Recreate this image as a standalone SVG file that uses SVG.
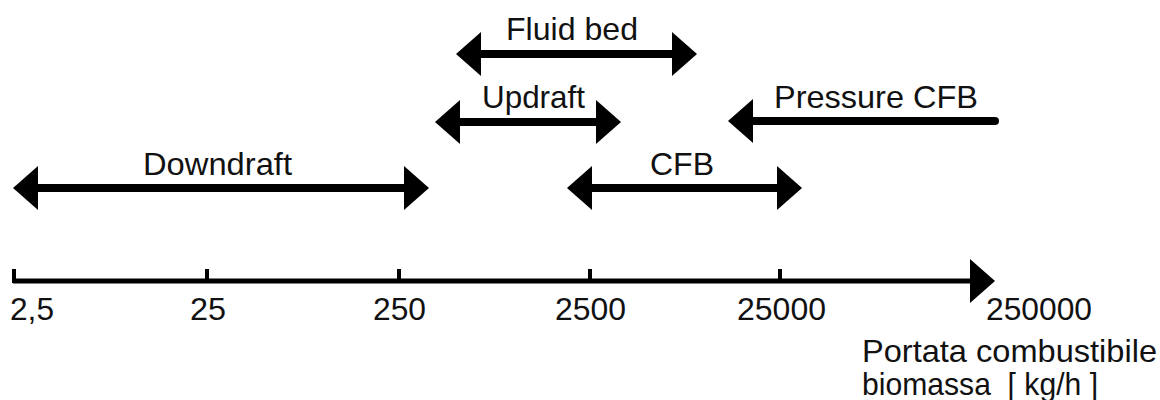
<svg xmlns="http://www.w3.org/2000/svg" width="1160" height="400" viewBox="0 0 1160 400">
<style>
  .bar{stroke:#000;stroke-width:8;fill:none;marker-start:url(#head);marker-end:url(#head)}
  .one{stroke:#000;stroke-width:8;fill:none;stroke-linecap:round;marker-start:url(#head)}
  .axis{stroke:#000;stroke-width:5;fill:none;marker-end:url(#head)}
  .tick{stroke:#000;stroke-width:4;fill:none}
  text{font-family:"Liberation Sans",Arial,sans-serif;font-size:32px;fill:#111;white-space:pre}
</style>
<defs>
  <marker id="head" viewBox="0 0 26 44" refX="1" refY="22" markerWidth="26" markerHeight="44" markerUnits="userSpaceOnUse" orient="auto-start-reverse">
    <path d="M0,0 L25,22 L0,44 z" fill="#000"/>
  </marker>
</defs>
<g id="connectors">
  <line id="fluidbed-bar" class="bar" x1="480" y1="54" x2="673" y2="54"/>
  <line id="updraft-bar" class="bar" x1="459" y1="122" x2="597" y2="122"/>
  <line id="pressure-bar" class="one" x1="752" y1="121" x2="995" y2="121"/>
  <line id="downdraft-bar" class="bar" x1="37" y1="188" x2="405" y2="188"/>
  <line id="cfb-bar" class="bar" x1="591" y1="188" x2="778" y2="188"/>
  <line id="axis-line" class="axis" x1="13" y1="281" x2="971" y2="281"/>
</g>
<g id="ticks">
  <line class="tick" x1="14" y1="269" x2="14" y2="283"/>
  <line class="tick" x1="207" y1="269" x2="207" y2="283"/>
  <line class="tick" x1="399" y1="269" x2="399" y2="283"/>
  <line class="tick" x1="590" y1="269" x2="590" y2="283"/>
  <line class="tick" x1="780" y1="269" x2="780" y2="283"/>
</g>
<g id="fluidbed"><text x="506" y="40" textLength="132" lengthAdjust="spacingAndGlyphs">Fluid bed</text></g>
<g id="updraft"><text x="482" y="108" textLength="103" lengthAdjust="spacingAndGlyphs">Updraft</text></g>
<g id="pressurecfb"><text x="774" y="108" textLength="204" lengthAdjust="spacingAndGlyphs">Pressure CFB</text></g>
<g id="downdraft"><text x="143" y="175" textLength="149" lengthAdjust="spacingAndGlyphs">Downdraft</text></g>
<g id="cfb"><text x="650" y="175" textLength="64" lengthAdjust="spacingAndGlyphs">CFB</text></g>
<g id="axis-labels">
  <text x="10" y="320" textLength="44" lengthAdjust="spacingAndGlyphs">2,5</text>
  <text x="190" y="320" textLength="36" lengthAdjust="spacingAndGlyphs">25</text>
  <text x="373" y="320" textLength="53" lengthAdjust="spacingAndGlyphs">250</text>
  <text x="555" y="320" textLength="71" lengthAdjust="spacingAndGlyphs">2500</text>
  <text x="737" y="320" textLength="89" lengthAdjust="spacingAndGlyphs">25000</text>
  <text x="986" y="320" textLength="106" lengthAdjust="spacingAndGlyphs">250000</text>
</g>
<g id="axis-title">
  <text x="862" y="362" textLength="295" lengthAdjust="spacingAndGlyphs">Portata combustibile</text>
  <text x="862" y="395" textLength="236" lengthAdjust="spacingAndGlyphs">biomassa  [ kg/h ]</text>
</g>
</svg>
